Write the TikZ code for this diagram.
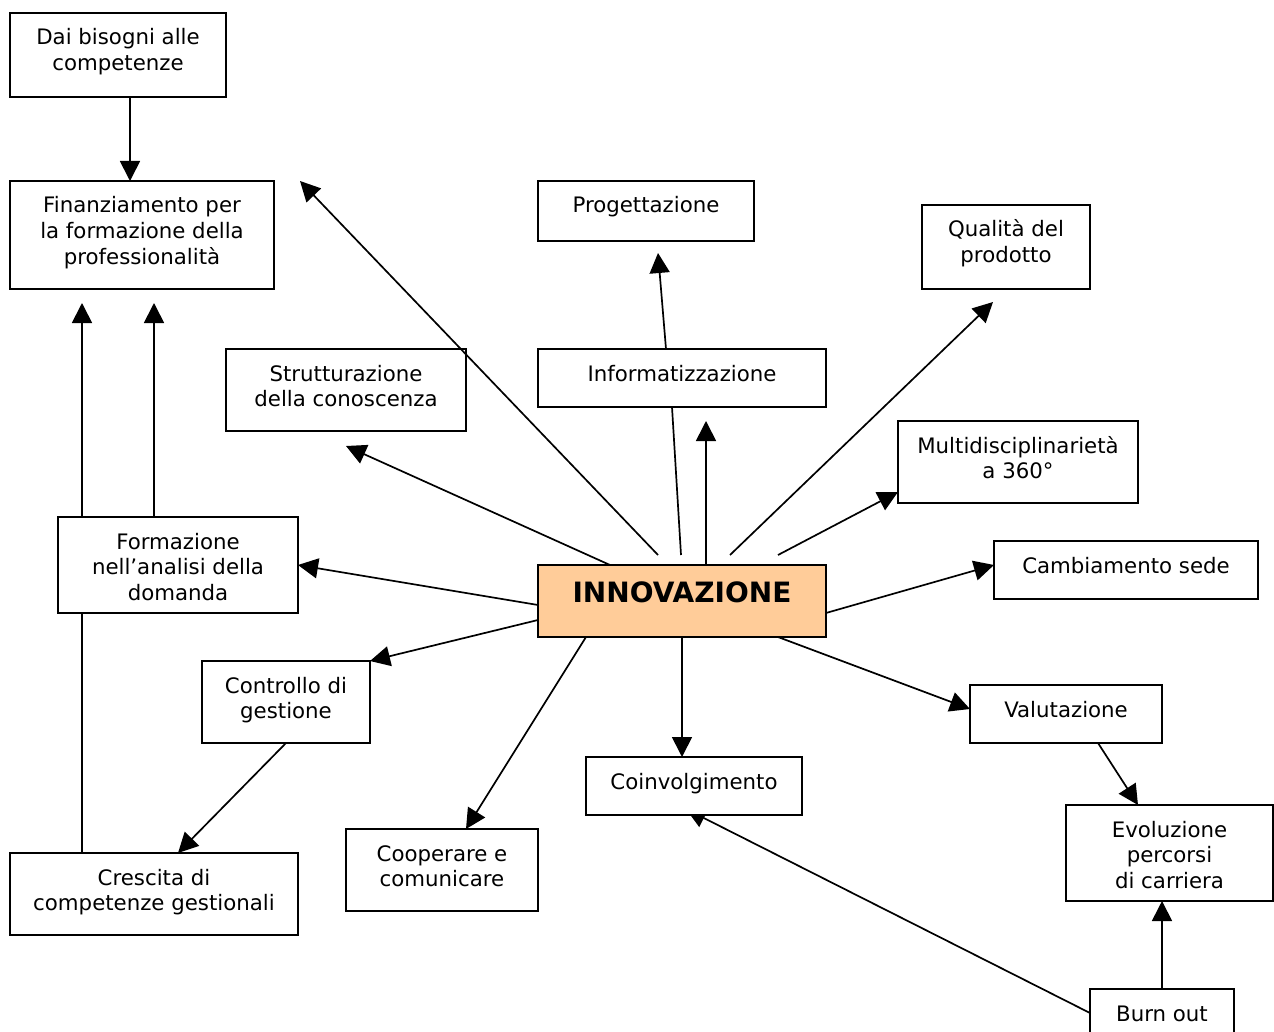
\documentclass[tikz,border=0pt]{standalone}
\usepackage{fontspec}
\setmainfont{DejaVu Sans}
\usetikzlibrary{arrows.meta,calc}
\pgfdeclarelayer{paper}
\pgfdeclarelayer{behind}
\pgfsetlayers{paper,behind,main}
% box content: width, height, lines (first baseline 32pt below the top edge)
\newcommand\boxlines[3]{\parbox[c][#2][t]{#1}{\centering\rule{0pt}{32pt}#3}}
\definecolor{peach}{RGB}{255,204,153}
\begin{document}
\begin{tikzpicture}[x=1pt,y=-1pt,
  box/.style={draw, line width=1.8pt, fill=white, inner sep=0pt, outer sep=0pt,
    anchor=north west, font=\fontsize{21.3}{25.8}\selectfont},
  arr/.style={line width=1.7pt, -{Triangle[length=20pt,width=20pt]}},
  link/.style={line width=1.7pt}]
\useasboundingbox (0,0) rectangle (1274,1032);
\begin{pgfonlayer}{paper}
\fill[white] (0,0) rectangle (1274,1032);
\end{pgfonlayer}

% boxes
\node[box] (dai)   at (10,13)   {\boxlines{216pt}{84pt}{Dai bisogni alle\\competenze}};
\node[box] (fin)   at (10,181)  {\boxlines{264pt}{108pt}{Finanziamento per\\la formazione della\\professionalità}};
\node[box] (prog)  at (538,181) {\boxlines{216pt}{60pt}{Progettazione}};
\node[box] (qual)  at (922,205) {\boxlines{168pt}{84pt}{Qualità del\\prodotto}};
\node[box] (strut) at (226,349) {\boxlines{240pt}{82pt}{Strutturazione\\della conoscenza}};
\node[box] (info)  at (538,349) {\boxlines{288pt}{58pt}{Informatizzazione}};
\node[box] (multi) at (898,421) {\boxlines{240pt}{82pt}{Multidisciplinarietà\\a 360°}};
\node[box] (form)  at (58,517)  {\boxlines{240pt}{96pt}{Formazione\\nell’analisi della\\domanda}};
\node[box, fill=peach] (inn) at (538,565)
  {\parbox[c][72pt][t]{288pt}{\centering\rule{0pt}{37pt}\bfseries\fontsize{28}{30}\selectfont INNOVAZIONE}};
\node[box] (camb)  at (994,541) {\boxlines{264pt}{58pt}{Cambiamento sede}};
\node[box] (contr) at (202,661) {\boxlines{168pt}{82pt}{Controllo di\\gestione}};
\node[box] (valu)  at (970,685) {\boxlines{192pt}{58pt}{Valutazione}};
\node[box] (coinv) at (586,757) {\boxlines{216pt}{58pt}{Coinvolgimento}};
\node[box] (evol)  at (1066,805){\boxlines{207pt}{96pt}{Evoluzione\\percorsi\\di carriera}};
\node[box] (coop)  at (346,829) {\boxlines{192pt}{82pt}{Cooperare e\\comunicare}};
\node[box] (cresc) at (10,853)  {\boxlines{288pt}{82pt}{Crescita di\\competenze gestionali}};
\node[box] (burn)  at (1090,989){\boxlines{144pt}{60pt}{Burn out}};

% the long link whose head tucks under "Coinvolgimento"
\begin{pgfonlayer}{behind}
\draw[arr] ($(burn.north west)+(0,24)$) -- ($(coinv.south west)+(100,-6)$);
\end{pgfonlayer}

% left column
\draw[arr] ($(dai.south west)+(120,0)$) -- ($(fin.north west)+(120,0)$);
\draw[arr] ($(form.north west)+(24,0)$) -- ($(fin.south west)+(72,14)$);
\draw[arr] ($(form.north west)+(96,0)$) -- ($(fin.south west)+(144,14)$);
\draw[link] ($(cresc.north west)+(72,0)$) -- ($(form.south west)+(24,0)$);
\draw[arr] ($(contr.south west)+(84,0)$) -- ($(cresc.north west)+(168,0)$);

% rays from the centre
\draw[arr] ($(inn.north west)+(120,-10)$) -- ($(fin.north east)+(26,0)$);
\draw[arr] ($(inn.north west)+(72,0)$) -- ($(strut.south west)+(120,15)$);
\draw[link] ($(inn.north west)+(143,-10)$) -- ($(info.south west)+(134,0)$);
\draw[arr] ($(inn.north west)+(168,0)$) -- ($(info.south west)+(168,14)$);
\draw[arr] ($(info.north west)+(128,0)$) -- ($(prog.south west)+(120,12)$);
\draw[arr] ($(inn.north west)+(192,-10)$) -- ($(qual.south west)+(71,13)$);
\draw[arr] ($(inn.north west)+(240,-10)$) -- ($(multi.south west)+(0,-11)$);
\draw[arr] ($(inn.north west)+(0,40)$) -- ($(form.north east)+(0,48)$);
\draw[arr] ($(inn.north west)+(0,55)$) -- (contr.north east);
\draw[arr] ($(inn.south west)+(48,0)$) -- ($(coop.north west)+(120,0)$);
\draw[arr] ($(inn.south west)+(144,0)$) -- ($(coinv.north west)+(96,0)$);
\draw[arr] ($(inn.north east)+(0,48)$) -- ($(camb.north west)+(0,24)$);
\draw[arr] ($(inn.south east)+(-48,0)$) -- ($(valu.north west)+(0,24)$);

% right column
\draw[arr] ($(valu.south west)+(128,0)$) -- ($(evol.north west)+(72,0)$);
\draw[arr] ($(burn.north west)+(72,0)$) -- ($(evol.south west)+(96,0)$);
\end{tikzpicture}
\end{document}
